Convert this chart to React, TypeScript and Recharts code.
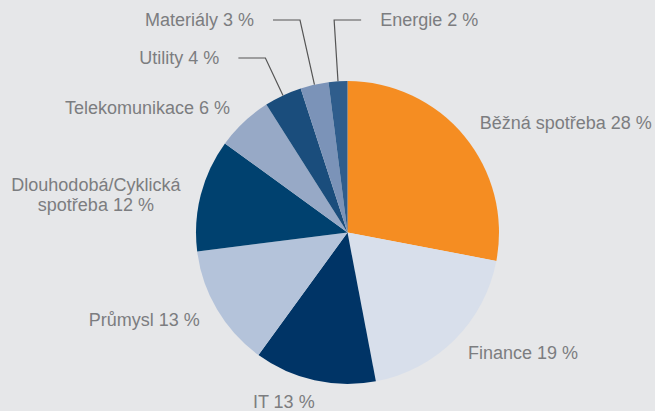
import React from "react";
import { PieChart, Pie, Cell } from "recharts";

const categoryLines: string[][] = [
  ["Běžná spotřeba"],
  ["Finance"],
  ["IT"],
  ["Průmysl"],
  ["Dlouhodobá/Cyklická", "spotřeba"],
  ["Telekomunikace"],
  ["Utility"],
  ["Materiály"],
  ["Energie"],
];
const shares = [28, 19, 13, 13, 12, 6, 4, 3, 2];
const colors = [
  "#F58D22",
  "#D8DFEB",
  "#003466",
  "#B4C3DA",
  "#00416F",
  "#97A9C6",
  "#1A4D7C",
  "#7B93B8",
  "#2F5D8C",
];

type Layout =
  | { kind: "radial"; offset: number; dy?: number; dx?: number }
  | { kind: "leader"; rise: number; side: number };

const LABEL_LAYOUT: Layout[] = [
  { kind: "radial", offset: 20 },
  { kind: "radial", offset: 19 },
  { kind: "radial", offset: 22, dx: 5 },
  { kind: "radial", offset: 20 },
  { kind: "radial", offset: 20, dy: 5 },
  { kind: "radial", offset: 20 },
  { kind: "leader", rise: 23, side: -1 },
  { kind: "leader", rise: 61, side: -1 },
  { kind: "leader", rise: 61, side: 1 },
];

const data = categoryLines.map((lines, i) => ({
  name: lines.join(" "),
  value: shares[i],
  lines: lines.map((l, j) => (j === lines.length - 1 ? `${l} ${shares[i]} %` : l)),
}));

const FONT_SIZE = 18;
const TEXT_COLOR = "#7c7d80";
const LINE_COLOR = "#555555";
const RAD = Math.PI / 180;

const estWidth = (s: string) => s.length * FONT_SIZE * 0.5;

const renderLabel = (props: any) => {
  const { cx, cy, midAngle, outerRadius, index } = props;
  const lines: string[] = data[index].lines;
  const layout = LABEL_LAYOUT[index];
  const cos = Math.cos(midAngle * RAD);
  const sin = Math.sin(midAngle * RAD);
  const baseShift = FONT_SIZE * 0.34;
  const textProps = {
    fill: TEXT_COLOR,
    fontSize: FONT_SIZE,
    fontFamily: "'Liberation Sans', Arial, sans-serif",
  };
  if (layout.kind === "leader") {
    const ex = cx + outerRadius * cos;
    const ey = cy - outerRadius * sin;
    const elbowY = cy - outerRadius - layout.rise;
    const t = (cy - elbowY) / sin;
    const bx = cx + cos * t;
    const hx = bx + layout.side * 27;
    const tx = hx + layout.side * 19;
    return (
      <g key={`lbl-${index}`}>
        <polyline
          points={`${ex},${ey} ${bx},${elbowY} ${hx},${elbowY}`}
          fill="none"
          stroke={LINE_COLOR}
          strokeWidth={1.2}
        />
        <text
          x={tx}
          y={elbowY + baseShift}
          textAnchor={layout.side < 0 ? "end" : "start"}
          {...textProps}
        >
          {lines[0]}
        </text>
      </g>
    );
  }
  const r = outerRadius + layout.offset;
  const px = cx + r * cos + (layout.dx || 0);
  const py = cy - r * sin + (layout.dy || 0);
  const lh = 20;
  if (lines.length > 1) {
    const w = Math.max(...lines.map(estWidth));
    const mx = cos >= 0 ? px + w / 2 : px - w / 2;
    const top = py - ((lines.length - 1) * lh) / 2;
    return (
      <text key={`lbl-${index}`} textAnchor="middle" {...textProps}>
        {lines.map((l, j) => (
          <tspan key={j} x={mx} y={top + j * lh + baseShift}>
            {l}
          </tspan>
        ))}
      </text>
    );
  }
  return (
    <text
      key={`lbl-${index}`}
      x={px}
      y={py + baseShift}
      textAnchor={cos >= 0 ? "start" : "end"}
      {...textProps}
    >
      {lines[0]}
    </text>
  );
};

export default function App() {
  return (
    <div style={{ width: 655, height: 411, background: "#E6E7E9" }}>
      <style>{`body{margin:0}`}</style>
      <PieChart width={655} height={411} margin={{ top: 0, right: 0, bottom: 0, left: 0 }}>
        <Pie
          data={data}
          dataKey="value"
          nameKey="name"
          cx={347.5}
          cy={232.5}
          outerRadius={151.5}
          startAngle={90}
          endAngle={-270}
          stroke="none"
          isAnimationActive={false}
          label={renderLabel}
          labelLine={false}
        >
          {data.map((d, i) => (
            <Cell key={d.name} fill={colors[i]} />
          ))}
        </Pie>
      </PieChart>
    </div>
  );
}
